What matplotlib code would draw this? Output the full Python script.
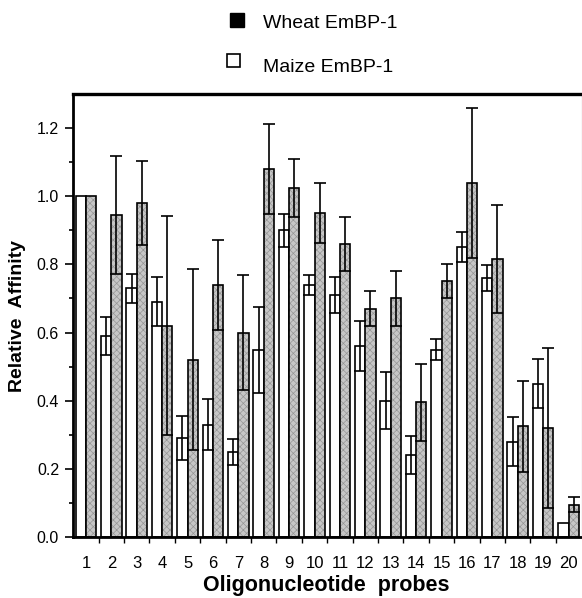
import matplotlib
matplotlib.use('Agg')
import matplotlib.pyplot as plt
import numpy as np
from matplotlib.patches import Rectangle

probes = [str(i) for i in range(1, 21)]
maize = [1.00, 0.59, 0.73, 0.69, 0.29, 0.33, 0.25, 0.55, 0.90, 0.74,
         0.71, 0.56, 0.40, 0.24, 0.55, 0.85, 0.76, 0.28, 0.45, 0.04]
maize_err = [0, 0.055, 0.042, 0.072, 0.064, 0.076, 0.038, 0.126, 0.048, 0.030,
             0.053, 0.074, 0.083, 0.055, 0.031, 0.044, 0.038, 0.073, 0.071, 0]
wheat = [1.00, 0.945, 0.98, 0.62, 0.52, 0.74, 0.60, 1.08, 1.025, 0.95,
         0.86, 0.67, 0.70, 0.395, 0.75, 1.04, 0.815, 0.325, 0.32, 0.094]
wheat_err = [0, 0.172, 0.123, 0.322, 0.265, 0.132, 0.170, 0.131, 0.085, 0.088,
             0.080, 0.052, 0.080, 0.112, 0.050, 0.220, 0.158, 0.134, 0.235, 0.022]
ytick_vals = [0.0, 0.2, 0.4, 0.6, 0.8, 1.0, 1.2]
ytick_labels = ['0.0', '0.2', '0.4', '0.6', '0.8', '1.0', '1.2']

plt.rcParams['font.family'] = ['Liberation Sans', 'DejaVu Sans']
plt.rcParams['hatch.linewidth'] = 0.5

W, H = 582, 598
fig = plt.figure(figsize=(W / 100, H / 100), dpi=100)
ax = fig.add_axes([73 / W, 1 - 537 / H, (581.5 - 73) / W, (537 - 94) / H])

x = np.arange(1, 21)
w = 0.405
# maize (white)
ax.bar(x - w / 2, maize, w, color='white', edgecolor='black', lw=1.2, zorder=2)
# wheat (stippled gray)
ax.bar(x + w / 2, wheat, w, color='#c6c6c6', edgecolor='#959595', lw=0,
       hatch='xxxxx', zorder=2)
ax.bar(x + w / 2, wheat, w, fill=False, edgecolor='black', lw=1.2, zorder=2.5)

me = np.array(maize_err)
we = np.array(wheat_err)
mm = me > 0
wm = we > 0
ax.errorbar((x - w / 2)[mm], np.array(maize)[mm], yerr=me[mm], fmt='none',
            ecolor='black', elinewidth=1.2, capsize=4.3, capthick=1.2, zorder=3)
ax.errorbar((x + w / 2)[wm], np.array(wheat)[wm], yerr=we[wm], fmt='none',
            ecolor='black', elinewidth=1.2, capsize=4.3, capthick=1.2, zorder=3)

ax.set_xlim(0.49, 20.51)
ax.set_ylim(0, 1.3)
ax.set_yticks(ytick_vals, ytick_labels, fontsize=11.5)
ax.set_yticks(np.arange(0.1, 1.3, 0.2), minor=True)
ax.tick_params(axis='y', which='major', length=6, width=1.2, direction='out', pad=4)
ax.tick_params(axis='y', which='minor', length=3, width=1.2, direction='out')
ax.set_xticks(x, probes, fontsize=12)
ax.set_xticks(x[:-1] + 0.5, minor=True)
ax.tick_params(axis='x', which='major', length=0, pad=14)
ax.tick_params(axis='x', which='minor', length=4, width=1.0, direction='out')

for s in ['left', 'bottom']:
    ax.spines[s].set_linewidth(2.0)
ax.spines['top'].set_linewidth(2.4)
ax.spines['right'].set_linewidth(0.8)
ax.spines['right'].set_color('#777777')

ax.set_ylabel('Relative  Affinity', fontsize=14, fontweight='bold', labelpad=8)
fig.text(326 / W, 1 - 591 / H, 'Oligonucleotide  probes', fontsize=15.5,
         fontweight='bold', ha='center', va='baseline')

# legend
fig.add_artist(Rectangle((230 / W, 1 - 27 / H), 14 / W, 14 / H,
                         transform=fig.transFigure, facecolor='black',
                         edgecolor='black', lw=1))
fig.add_artist(Rectangle((227 / W, 1 - 67 / H), 13 / W, 13 / H,
                         transform=fig.transFigure, facecolor='white',
                         edgecolor='black', lw=1.2))
fig.text(263 / W, 1 - 23 / H, 'Wheat EmBP-1', fontsize=14, ha='left', va='center')
fig.text(263 / W, 1 - 68 / H, 'Maize EmBP-1', fontsize=14, ha='left', va='center')

fig.savefig('out.png', dpi=100)
